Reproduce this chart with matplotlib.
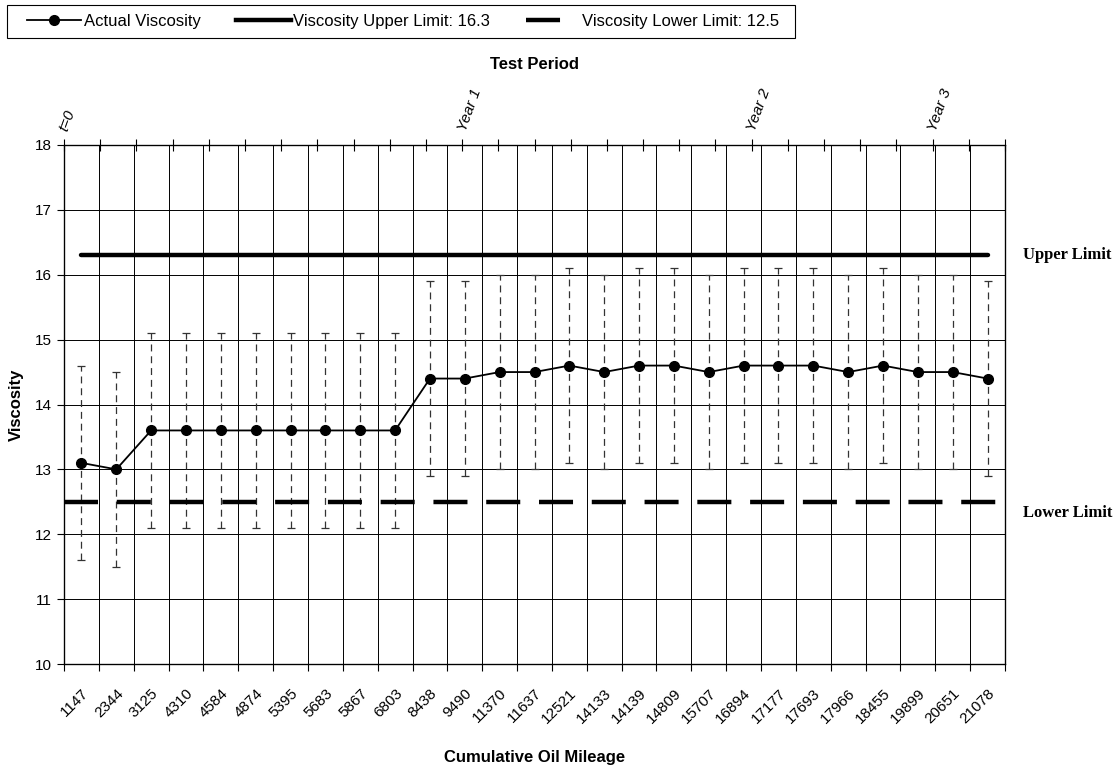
import numpy as np
import matplotlib
matplotlib.use("Agg")
import matplotlib.pyplot as plt
from matplotlib.lines import Line2D
from matplotlib.patches import Rectangle
from matplotlib.transforms import blended_transform_factory

plt.rcParams['font.family'] = ['Liberation Sans', 'DejaVu Sans']
plt.rcParams['lines.scale_dashes'] = False

mileage = ["1147", "2344", "3125", "4310", "4584", "4874", "5395", "5683", "5867", "6803",
           "8438", "9490", "11370", "11637", "12521", "14133", "14139", "14809", "15707",
           "16894", "17177", "17693", "17966", "18455", "19899", "20651", "21078"]
viscosity = [13.1, 13.0, 13.6, 13.6, 13.6, 13.6, 13.6, 13.6, 13.6, 13.6,
             14.4, 14.4, 14.5, 14.5, 14.6, 14.5, 14.6, 14.6, 14.5,
             14.6, 14.6, 14.6, 14.5, 14.6, 14.5, 14.5, 14.4]
visc_high = [14.6, 14.5, 15.1, 15.1, 15.1, 15.1, 15.1, 15.1, 15.1, 15.1,
             15.9, 15.9, 16.0, 16.0, 16.1, 16.0, 16.1, 16.1, 16.0,
             16.1, 16.1, 16.1, 16.0, 16.1, 16.0, 16.0, 15.9]
visc_low = [11.6, 11.5, 12.1, 12.1, 12.1, 12.1, 12.1, 12.1, 12.1, 12.1,
            12.9, 12.9, 13.0, 13.0, 13.1, 13.0, 13.1, 13.1, 13.0,
            13.1, 13.1, 13.1, 13.0, 13.1, 13.0, 13.0, 12.9]
upper_limit = 16.3
lower_limit = 12.5
period_ticks = [0, 11, 19, 24]
period_labels = ["t=0", "Year 1", "Year 2", "Year 3"]
n_period = 26

n = len(mileage)
x = np.arange(n)
vis = np.array(viscosity)
yerr = [vis - np.array(visc_low), np.array(visc_high) - vis]

fig = plt.figure(figsize=(11.2, 7.69), dpi=100)
ax = fig.add_axes([64/1120, 1-664/769, (1005-64)/1120, (664-145)/769])

ax.set_xlim(-0.5, n - 0.5)
ax.set_ylim(10, 18)
ax.set_yticks(np.arange(10, 19, 1))
ax.set_xticks(x)
ax.set_xticklabels(mileage, rotation=45, ha='right', va='top', rotation_mode='anchor', fontsize=11)
ax.set_xticks(np.arange(n + 1) - 0.5, minor=True)
ax.tick_params(axis='x', which='major', length=0, pad=16)
ax.tick_params(axis='x', which='minor', length=5, direction='out', width=0.8)
ax.tick_params(axis='y', which='major', length=5, direction='out', width=0.8, labelsize=11)
ax.grid(True, which='minor', axis='x', color='black', lw=0.7)
ax.grid(True, which='major', axis='y', color='black', lw=0.7)
ax.set_axisbelow(True)
for s in ax.spines.values():
    s.set_linewidth(0.9)

# error bars
eb = ax.errorbar(x, vis, yerr=yerr, fmt='none', ecolor='#333333', elinewidth=0.9,
                 capsize=3, capthick=0.9, zorder=3)
eb[2][0].set_linestyle((0, (5, 3.5)))

# limits
ax.plot(x, [upper_limit] * n, color='black', lw=3.2, solid_capstyle='round', zorder=4)
ax.axhline(lower_limit, color='black', lw=3.2, dashes=(24.5, 13.5), dash_capstyle='butt', zorder=4)

# actual
ax.plot(x, vis, color='black', lw=1.3, marker='o', markersize=7, zorder=5)

ax.set_ylabel("Viscosity", fontsize=12, fontweight='bold', labelpad=8)
ax.set_xlabel("Cumulative Oil Mileage", fontsize=12, fontweight='bold', labelpad=17)

# top axis
ax2 = ax.twiny()
ax2.set_xlim(0, n_period)
ax2.set_xticks(np.arange(n_period + 1))
lbls = [''] * (n_period + 1)
for t, l in zip(period_ticks, period_labels):
    lbls[t] = l
ax2.set_xticklabels(lbls, rotation=70, ha='left', va='center', rotation_mode='anchor',
                    fontsize=11, fontstyle='italic')
ax2.tick_params(axis='x', direction='inout', length=9, width=0.8, pad=6)
ax2.set_xlabel("Test Period", fontsize=12, fontweight='bold', labelpad=13)

# right labels
tr = blended_transform_factory(ax.transAxes, ax.transData)
ax.text(1.019, upper_limit, "Upper Limit", transform=tr, ha='left', va='center',
        fontsize=12, fontweight='bold', family='Liberation Serif')
ax.text(1.019, lower_limit - 0.17, "Lower Limit", transform=tr, ha='left', va='center',
        fontsize=12, fontweight='bold', family='Liberation Serif')

# legend (frame drawn separately)
fig.patches.append(Rectangle((7/1120, 1-38/769), (795-7)/1120, 33/769, transform=fig.transFigure,
                             fill=False, edgecolor='black', lw=0.8))
handles = [
    Line2D([], [], color='black', lw=1.3, marker='o', markersize=7),
    Line2D([], [], color='black', lw=3.2),
    Line2D([], [], color='black', lw=3.2, dashes=(24.5, 16)),
]
labels = ["Actual Viscosity", "Viscosity Upper Limit: 16.3", "Viscosity Lower Limit: 12.5"]
leg = fig.legend(handles, labels, loc='center left', bbox_to_anchor=(27/1120, 1-21.5/769), ncol=3,
                 fontsize=12, handlelength=3.25, handletextpad=0.15, columnspacing=2.15,
                 frameon=False, borderpad=0, borderaxespad=0)

fig.savefig("out.png", dpi=100)
